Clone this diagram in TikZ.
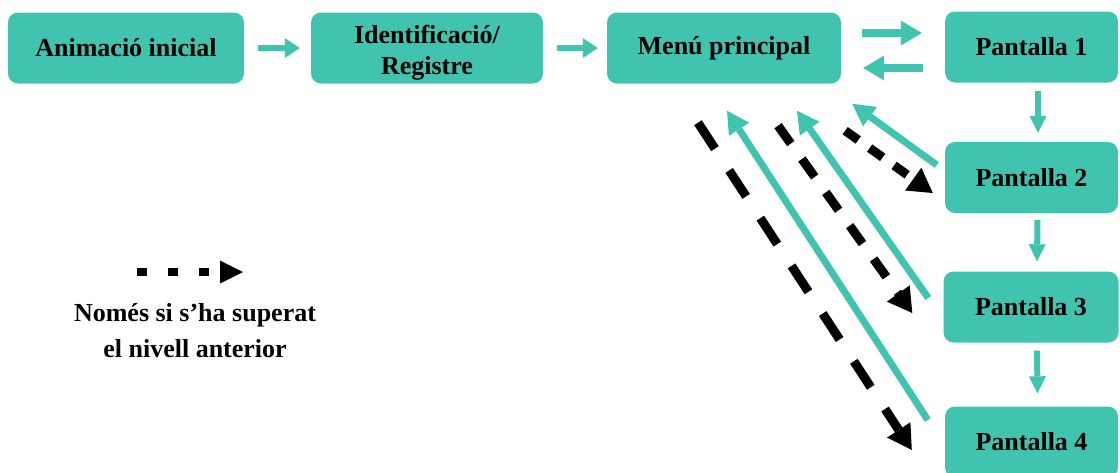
\documentclass[tikz,border=0pt]{standalone}
\usepackage{fontspec}
\setmainfont{Liberation Serif}
\usepackage{tikz}
\usetikzlibrary{arrows.meta, calc}

\definecolor{tealbox}{RGB}{64,196,176}

\begin{document}
\begin{tikzpicture}[x=1pt, y=-1pt,
    box/.style={fill=tealbox, rounded corners=10pt, minimum height=71, inner sep=0pt,
      align=center, font=\bfseries\fontsize{26}{31}\selectfont},
    flow/.style={color=tealbox, line width=8pt, -{Triangle[width=25pt,length=21pt,line width=0pt]}},
    small/.style={color=tealbox, line width=6.5pt, -{Triangle[width=20pt,length=15pt,line width=0pt]}},
    down/.style={color=tealbox, line width=6pt, -{Triangle[width=17pt,length=17pt,line width=0pt]}},
    back/.style={color=tealbox, line width=7pt, -{Triangle[width=24pt,length=22pt,line width=0pt]}},
    only/.style={color=black, line width=9pt, -{Triangle[width=28pt,length=24pt,line width=0pt]}}]
  \useasboundingbox (0,0) rectangle (1120,472);

  \node[box, minimum width=236] (anim) at (126,48) {Animació inicial};
  \node[box, minimum width=232, text height=58pt] (ident) at (427,48) {Identificació/\\Registre};
  \node[box, minimum width=234] (menu) at (724,48) {Menú principal};
  \node[box, minimum width=173] (p1) at (1031.5,47) {Pantalla 1};
  \node[box, minimum width=173] (p2) at (1031.5,177.5) {Pantalla 2};
  \node[box, minimum width=175] (p3) at (1031,307) {Pantalla 3};
  \node[box, minimum width=173] (p4) at (1031.5,442) {Pantalla 4};

  % main line
  \path[small]
    (anim) edge[shorten <=14pt, shorten >=11pt] (ident)
    (ident) edge[shorten <=14pt, shorten >=9pt] (menu);
  \path[flow]
    ($(menu.east)+(21,-15)$) edge ($(p1.west)+(-23,-14)$)
    ($(p1.west)+(-22,21)$) edge ($(menu.east)+(22,20)$);
  \path[down]
    ($(p1.south)+(6.5,8)$) edge ($(p2.north)+(6.5,-9)$)
    ($(p2.south)+(6,7)$) edge ($(p3.north)+(6,-10)$)
    ($(p3.south)+(6,8)$) edge ($(p4.north)+(6,-13)$);

  % back to the menu
  \path[back]
    ($(p2.west)+(-8,-12.5)$) edge ($(menu.south east)+(11,20)$)
    ($(p3.west)+(-15,-9)$) edge ($(menu.south)+(73,27)$)
    ($(p4.west)+(-17,-22)$) edge ($(menu.south)+(3,27)$);

  % next level
  \path[only]
    ($(menu.south east)+(4,47)$) edge[dash pattern=on 16pt off 14pt] ($(p2.west)+(-12,15.5)$)
    ($(menu.south)+(54,42)$) edge[dash pattern=on 22pt off 19pt] ($(p3.west)+(-31,6)$)
    ($(menu.south)+(-26,39)$) edge[dash pattern=on 31pt off 26pt] ($(p4.west)+(-33,8)$);

  % legend
  \coordinate (key1) at (137,272);
  \coordinate (key2) at (243,272);
  \path[only, line width=8pt, -{Triangle[width=23pt,length=23pt,line width=0pt]}]
    (key1) edge[dash pattern=on 10pt off 21pt] (key2);
  \node[align=center, font=\bfseries\fontsize{26}{36}\selectfont] (keytext) at (195,331)
    {Només si s’ha superat\\el nivell anterior};
\end{tikzpicture}
\end{document}
